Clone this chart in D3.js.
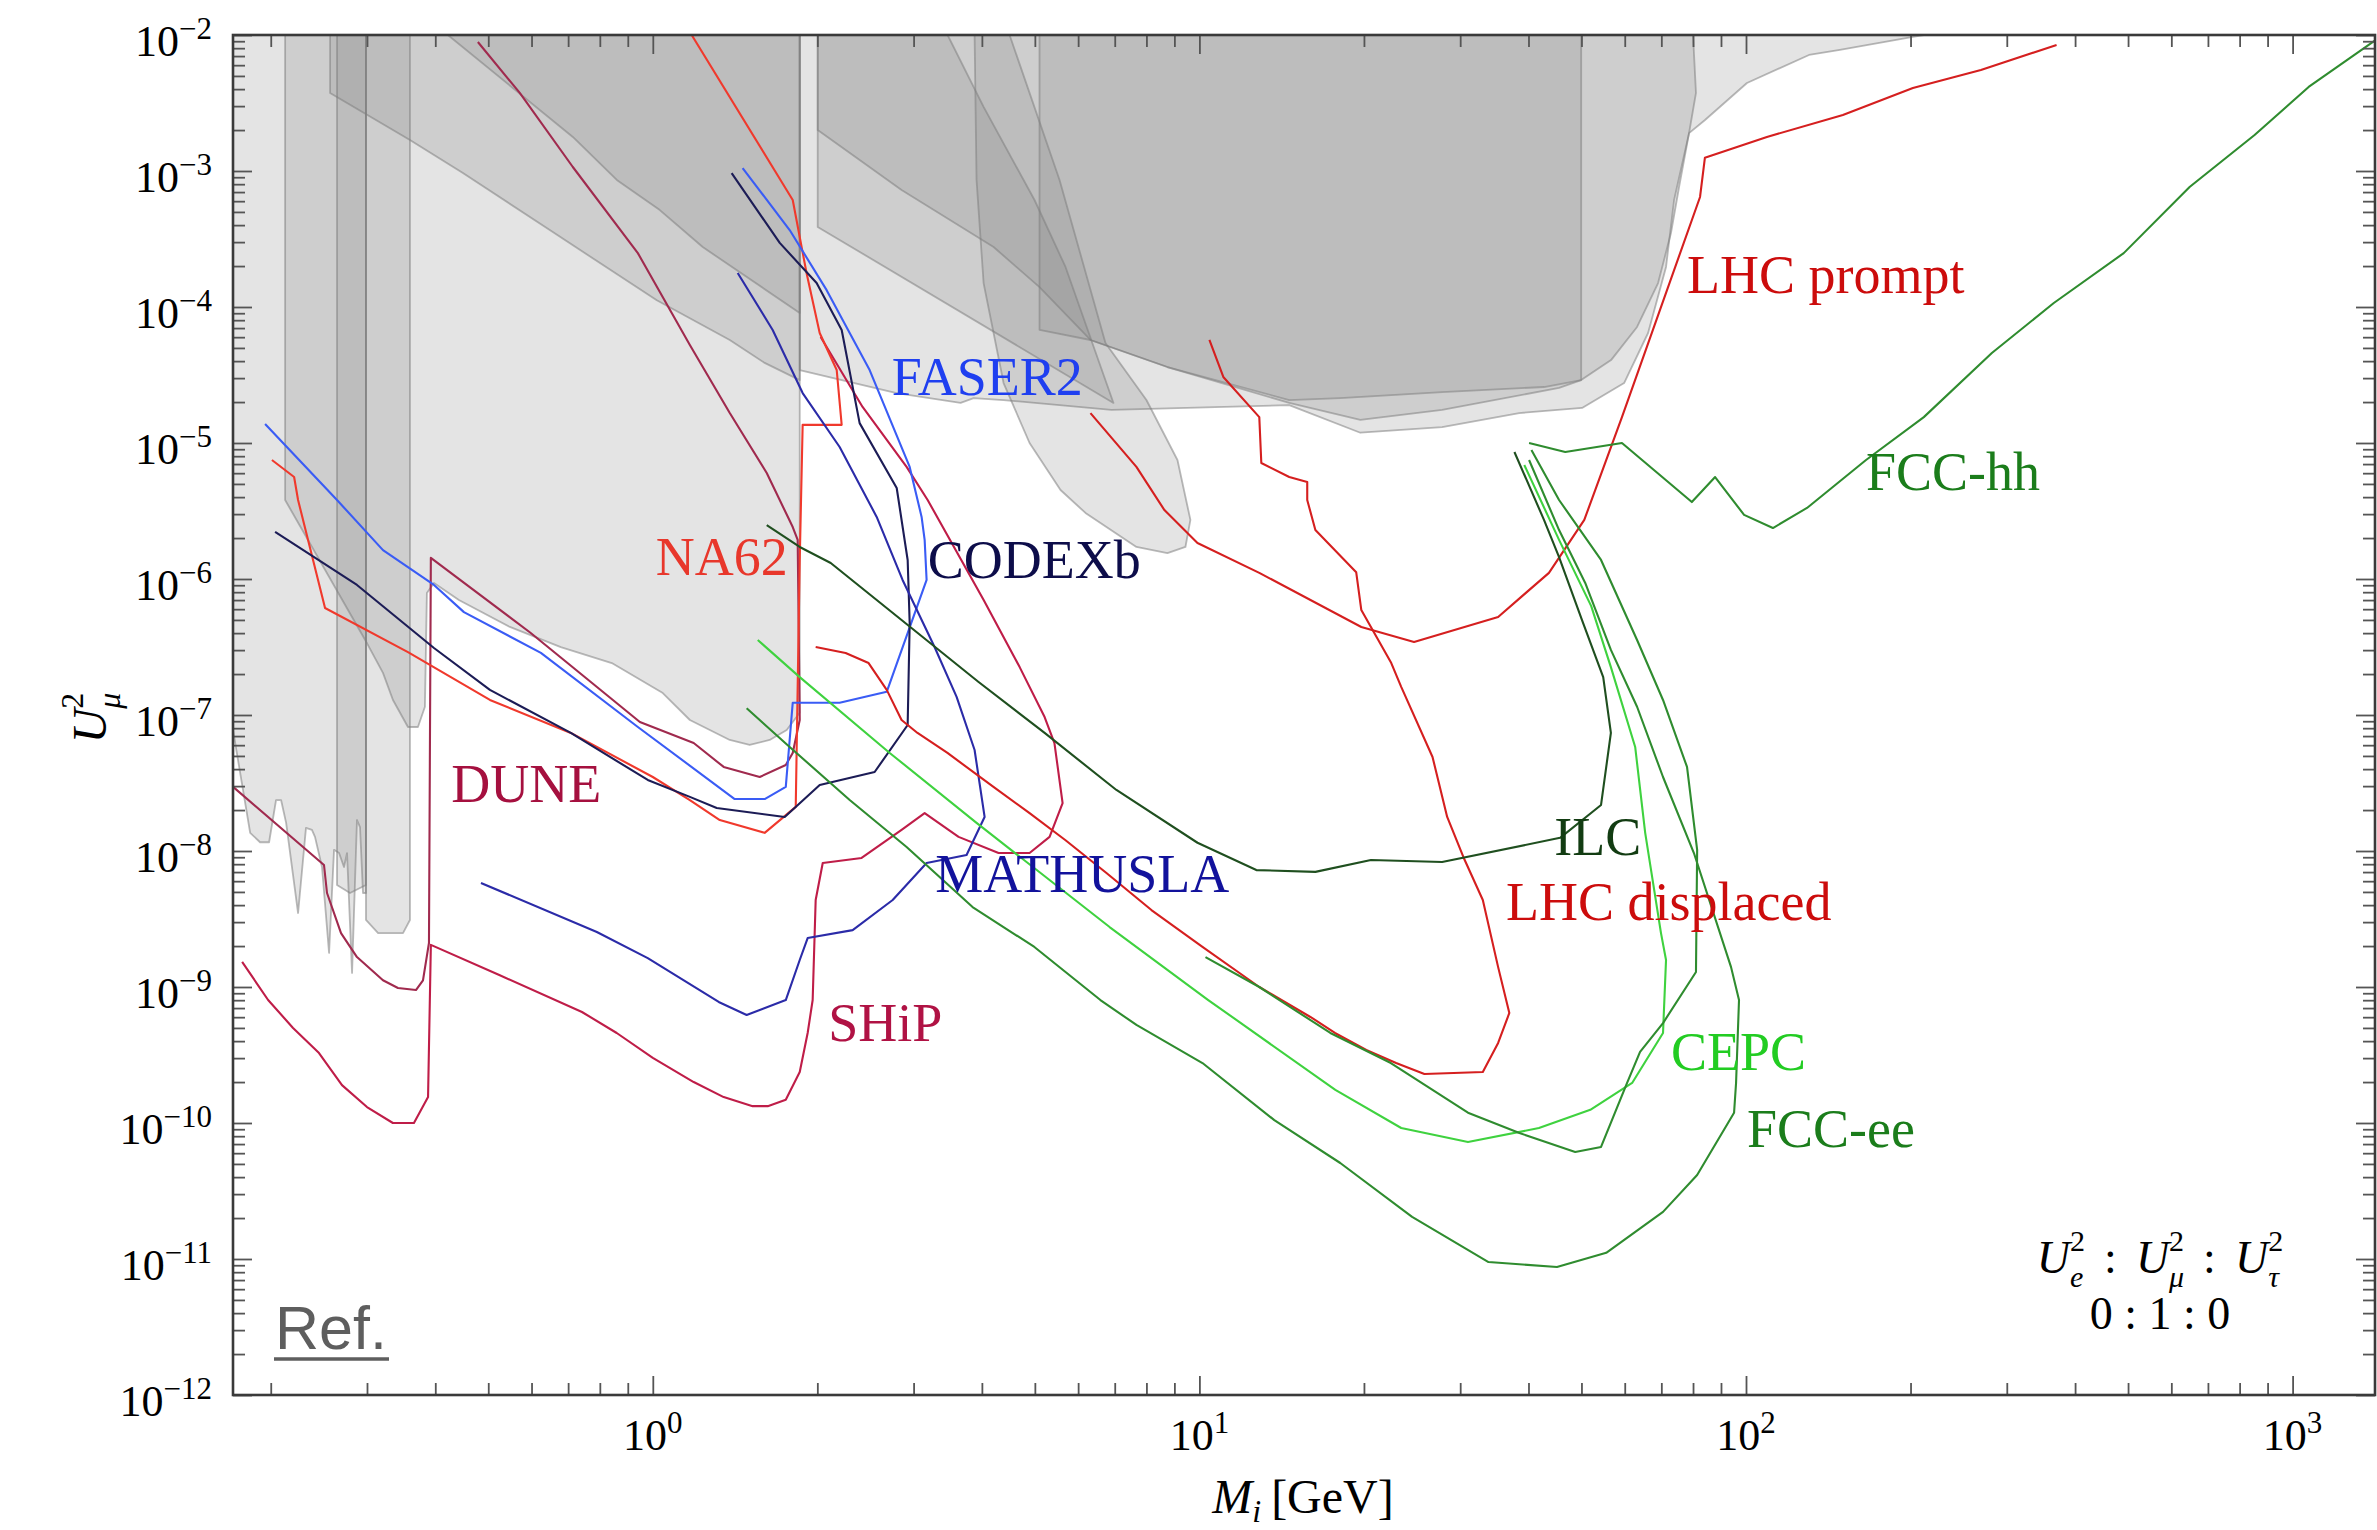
<!DOCTYPE html>
<html>
<head>
<meta charset="utf-8">
<script src="https://cdn.jsdelivr.net/npm/d3@7"></script>
<style>
  body { margin: 0; background: #fff; }
  svg text { font-family: "Liberation Serif", "Times New Roman", serif; }
</style>
</head>
<body>
<svg id="chart" width="2377" height="1530"></svg>
<script>
// HNL sensitivity / exclusion plot: heavy neutral lepton mass vs muon mixing U_mu^2
// All points are [M in GeV, U_mu^2].

const massDomain = [0.1706, 1415];
const mixDomain = [1e-12, 1e-2];
const xTickExps = [0, 1, 2, 3];
const yTickExps = [-12, -11, -10, -9, -8, -7, -6, -5, -4, -3, -2];

// ---- existing bounds (shaded) ----
const boundPeak = [[0.1706,1e-2],[0.2987,1e-2],[0.2987,4.91e-9],[0.2950,4.91e-9],[0.2913,1.5e-8],[0.2876,1.69e-8],[0.2817,1.27e-9],[0.2758,9.66e-9],[0.2723,7.63e-9],[0.2667,9.66e-9],[0.2611,1.02e-8],[0.2557,1.78e-9],[0.2482,7.63e-9],[0.2410,1.27e-8],[0.2379,1.43e-8],[0.2320,1.48e-8],[0.2244,3.5e-9],[0.2134,1.61e-8],[0.2089,2.37e-8],[0.2045,2.37e-8],[0.1986,1.16e-8],[0.1912,1.16e-8],[0.1834,1.36e-8],[0.1706,7.76e-8]];
const boundStripA = [[0.2644,1e-2],[0.2987,1e-2],[0.2987,5.62e-9],[0.2793,4.91e-9],[0.2644,5.62e-9]];
const boundStripB = [[0.2987,1e-2],[0.3595,1e-2],[0.3595,3.11e-9],[0.3491,2.49e-9],[0.3144,2.49e-9],[0.2987,3.11e-9]];
const boundLowMass = [[0.2125,1e-2],[1.857,1e-2],[1.857,1.04e-7],[1.758,7.76e-8],[1.636,6.55e-8],[1.504,6.02e-8],[1.383,6.55e-8],[1.169,9.19e-8],[1.043,1.45e-7],[0.8414,2.41e-7],[0.6787,3.16e-7],[0.5476,4.44e-7],[0.4418,7.01e-7],[0.3978,9.35e-7],[0.3861,7.89e-7],[0.3829,1.15e-7],[0.3718,8.16e-8],[0.3565,8.16e-8],[0.3347,1.29e-7],[0.3209,2.04e-7],[0.2999,3.38e-7],[0.2125,3.81e-6]];
const boundDiagA = [[0.2568,1e-2],[0.2568,3.75e-3],[0.3595,1.69e-3],[0.4494,9.66e-4],[0.6479,3.68e-4],[1.017,1.12e-4],[1.383,5.72e-5],[1.602,3.88e-5],[1.857,2.9e-5],[1.857,1e-2]];
const boundDiagB = [[0.4218,1e-2],[0.714,1.78e-3],[0.8593,8.59e-4],[1.030,5.16e-4],[1.234,2.76e-4],[1.857,9.04e-5],[1.857,1e-2]];
const boundWide = [[1.857,1e-2],[211.5,1e-2],[202,9.67e-3],[148.5,7.76e-3],[130.4,7.13e-3],[100.4,4.44e-3],[84.14,2.37e-3],[78.67,1.9e-3],[73.86,6.12e-4],[71.4,1.97e-4],[66.2,6.44e-5],[59.84,2.76e-5],[50.13,1.81e-5],[38.46,1.66e-5],[27.8,1.31e-5],[19.7,1.19e-5],[14.6,1.9e-5],[6.904,1.75e-5],[4.383,2.07e-5],[3.863,2.14e-5],[3.657,1.97e-5],[2.793,2.33e-5],[1.857,3.44e-5]];
const boundMid = [[2.003,1e-2],[80.0,1e-2],[81.0,3.75e-3],[78.67,1.9e-3],[75.43,7.63e-4],[72.9,3.5e-4],[69.05,1.5e-4],[63.2,7.13e-5],[56.64,4.07e-5],[49.94,2.9e-5],[45.5,2.54e-5],[27.8,1.75e-5],[19.7,1.48e-5],[14.6,1.97e-5],[8.739,3.62e-5],[6.320,5.72e-5],[5.099,1.40e-4],[4.202,2.76e-4],[2.852,7.25e-4],[2.003,2.0e-3]];
const boundCollider = [[5.099,1e-2],[49.94,1e-2],[49.94,2.9e-5],[42.72,2.58e-5],[27.8,2.37e-5],[18.1,2.14e-5],[14.6,2.07e-5],[8.739,3.62e-5],[6.320,5.72e-5],[5.099,6.78e-5]];
const boundBeamDump = [[2.003,1e-2],[3.462,1e-2],[4.029,2.96e-3],[4.993,6.12e-4],[5.689,1.97e-4],[6.963,1.97e-5],[2.003,3.88e-4]];
const boundLobe = [[3.879,1e-2],[4.495,1e-2],[5.548,8.59e-4],[6.732,5.44e-5],[8.0,2.07e-5],[9.117,7.5e-6],[9.628,2.72e-6],[9.428,1.72e-6],[8.739,1.55e-6],[7.670,1.72e-6],[6.189,3.06e-6],[5.571,4.51e-6],[4.89,1.0e-5],[4.383,2.76e-5],[4.029,1.5e-4],[3.911,8.59e-4]];

// ---- future sensitivities (lines) ----
const DUNE = [[0.1707,2.96e-8],[0.2503,7.89e-9],[0.2535,4.91e-9],[0.2689,2.49e-9],[0.2876,1.66e-9],[0.3209,1.12e-9],[0.3418,9.84e-10],[0.3687,9.5e-10],[0.3798,1.12e-9],[0.3895,2.11e-9],[0.3926,1.43e-6],[0.598,4.01e-7],[0.947,8.89e-8],[1.188,6.22e-8],[1.348,4.15e-8],[1.569,3.5e-8],[1.751,4.29e-8],[1.803,5.26e-8],[1.857,9.19e-8],[1.841,1.94e-6],[1.803,2.41e-6],[1.616,6.02e-6],[1.383,1.66e-5],[1.169,5.26e-5],[0.939,2.49e-4],[0.714,1.07e-3],[0.571,3.75e-3],[0.4786,8.88e-3]];
const SHiP = [[0.1773,1.53e-9],[0.1978,8.02e-10],[0.2197,5.0e-10],[0.2451,3.27e-10],[0.27,1.9e-10],[0.30,1.31e-10],[0.3346,1.0e-10],[0.3656,1.0e-10],[0.388,1.55e-10],[0.3926,2.04e-9],[0.525,1.22e-9],[0.742,6.55e-10],[0.859,4.59e-10],[1.0,3.01e-10],[1.188,2.0e-10],[1.348,1.55e-10],[1.523,1.33e-10],[1.623,1.33e-10],[1.751,1.48e-10],[1.857,2.37e-10],[1.92,4.59e-10],[1.961,8.02e-10],[1.986,4.36e-9],[2.046,8.16e-9],[2.41,8.89e-9],[2.852,1.43e-8],[3.143,1.9e-8],[3.626,1.27e-8],[4.291,9.66e-9],[4.89,9.66e-9],[5.32,1.27e-8],[5.62,2.25e-8],[5.43,6.22e-8],[5.21,9.66e-8],[4.69,2.25e-7],[4.03,7.01e-7],[3.183,3.81e-6],[2.913,6.67e-6],[2.42,1.84e-5],[2.028,6.02e-5]];
const NA62 = [[0.201,7.5e-6],[0.2207,5.62e-6],[0.2244,3.81e-6],[0.2514,6.12e-7],[0.3565,2.9e-7],[0.5035,1.29e-7],[0.708,7.38e-8],[1.0,3.5e-8],[1.169,2.37e-8],[1.326,1.69e-8],[1.602,1.36e-8],[1.826,2.11e-8],[1.857,1.38e-6],[1.88,1.36e-5],[2.216,1.36e-5],[2.17,3.44e-5],[2.02,6.44e-5],[1.911,1.78e-4],[1.803,6.12e-4],[1.178,1e-2]];
const FASER2 = [[0.1953,1.38e-5],[0.2644,3.81e-6],[0.3209,1.63e-6],[0.3978,9.04e-7],[0.4513,5.71e-7],[0.6241,2.86e-7],[0.939,8.16e-8],[1.412,2.41e-8],[1.602,2.41e-8],[1.751,2.96e-8],[1.803,1.23e-7],[2.197,1.23e-7],[2.679,1.48e-7],[3.169,9.84e-7],[3.143,1.94e-6],[3.103,2.86e-6],[2.951,6.67e-6],[2.493,3.44e-5],[2.08,1.33e-4],[1.78,3.68e-4],[1.46,1.05e-3]];
const CODEXb = [[0.2037,2.22e-6],[0.2876,9.04e-7],[0.3978,3.11e-7],[0.5035,1.53e-7],[0.708,7.38e-8],[0.979,3.33e-8],[1.169,2.5e-8],[1.309,2.07e-8],[1.743,1.78e-8],[2.02,3.06e-8],[2.546,3.81e-8],[2.926,8.44e-8],[2.951,4.74e-7],[2.926,1.38e-6],[2.794,4.67e-6],[2.39,1.4e-5],[2.216,6.78e-5],[1.994,1.5e-4],[1.707,2.96e-4],[1.394,9.66e-4]];
const MATHUSLA = [[0.4849,5.82e-9],[0.79,2.54e-9],[0.979,1.63e-9],[1.32,7.76e-10],[1.485,6.22e-10],[1.751,8.02e-10],[1.857,1.58e-9],[1.92,2.29e-9],[2.321,2.62e-9],[2.747,4.36e-9],[3.169,8.16e-9],[3.75,9.35e-9],[4.046,1.78e-8],[3.879,5.53e-8],[3.596,1.36e-7],[3.277,3.16e-7],[2.864,9.84e-7],[2.568,2.86e-6],[2.197,9.35e-6],[1.88,2.33e-5],[1.657,6.78e-5],[1.43,1.78e-4]];
const LHCdisplaced = [[10.43,5.72e-5],[11.06,3.06e-5],[12.87,1.55e-5],[12.98,7.13e-6],[14.6,5.62e-6],[15.75,5.16e-6],[15.75,3.81e-6],[16.3,2.29e-6],[19.36,1.12e-6],[19.78,5.91e-7],[22.44,2.41e-7],[23.4,1.61e-7],[26.7,4.91e-8],[28.4,1.78e-8],[30.4,9.04e-9],[33.0,4.36e-9],[35.2,1.4e-9],[36.9,6.44e-10],[35.2,3.88e-10],[33.0,2.37e-10],[25.8,2.29e-10],[22.9,2.76e-10],[20.2,3.44e-10],[17.7,4.59e-10],[15.96,6.02e-10],[12.87,1.0e-9],[10.13,1.97e-9],[8.17,3.68e-9],[6.76,6.89e-9],[5.69,1.2e-8],[4.89,1.9e-8],[4.2,2.96e-8],[3.46,5.26e-8],[3.05,7.38e-8],[2.852,9.19e-8],[2.679,1.53e-7],[2.482,2.41e-7],[2.253,2.86e-7],[1.986,3.16e-7]];
const LHCprompt = [[6.32,1.66e-5],[7.67,6.67e-6],[8.63,3.21e-6],[9.92,1.84e-6],[12.87,1.11e-6],[19.78,4.44e-7],[24.7,3.44e-7],[35.2,5.26e-7],[43.6,1.11e-6],[50.6,2.72e-6],[59.3,1.55e-5],[82.4,6.44e-4],[84.1,1.25e-3],[109.2,1.78e-3],[150.4,2.58e-3],[202,4.07e-3],[269,5.53e-3],[370,8.44e-3]];
const ILC = [[1.616,2.49e-6],[1.857,1.72e-6],[2.116,1.31e-6],[3.945,1.75e-7],[5.21,7.38e-8],[7.05,2.81e-8],[9.92,1.15e-8],[12.71,7.24e-9],[16.3,7.02e-9],[20.6,8.59e-9],[27.8,8.3e-9],[45.7,1.25e-8],[54.3,2.18e-8],[56.6,7.38e-8],[54.8,1.9e-7],[50.1,5.0e-7],[45.5,1.45e-6],[42.7,2.72e-6],[37.7,8.59e-6]];
const CEPC = [[1.556,3.56e-7],[1.857,1.9e-7],[2.713,5.26e-8],[3.911,1.61e-8],[6.85,2.76e-9],[10.38,8.02e-10],[17.73,1.75e-10],[23.4,9.19e-11],[31.0,7.24e-11],[41.8,9.19e-11],[51.9,1.25e-10],[61.9,1.97e-10],[70.5,4.59e-10],[71.4,1.58e-9],[69.9,2.49e-9],[65.4,1.36e-8],[62.7,5.82e-8],[56.6,2.25e-7],[52.1,6.32e-7],[45.5,1.94e-6],[39.3,6.89e-6]];
const FCCeeWide = [[1.485,1.12e-7],[1.78,5.82e-8],[2.292,2.37e-8],[2.913,1.07e-8],[3.846,3.87e-9],[4.99,1.97e-9],[6.59,8.02e-10],[7.67,5.26e-10],[10.13,2.76e-10],[13.71,1.05e-10],[18.1,5.08e-11],[24.5,2.04e-11],[33.8,9.5e-12],[45.1,8.73e-12],[55.5,1.11e-11],[70.5,2.22e-11],[81.4,4.15e-11],[95.1,1.19e-10],[95.9,1.97e-10],[97.1,8.02e-10],[93.9,1.4e-9],[80.3,9.66e-9],[70.5,3.5e-8],[63.2,1.15e-7],[56.6,3.01e-7],[50.8,9.35e-7],[45.5,2.29e-6],[40.1,7.5e-6]];
const FCCeeNarrow = [[10.26,1.66e-9],[12.87,1.0e-9],[17.36,4.59e-10],[22.4,2.76e-10],[31.0,1.19e-10],[38.5,8.44e-11],[48.7,6.12e-11],[54.3,6.67e-11],[60.6,1.97e-10],[64.0,3.33e-10],[70.5,5.43e-10],[81.0,1.29e-9],[81.4,1.02e-8],[78.0,4.15e-8],[70.5,1.29e-7],[63.2,3.56e-7],[54.3,1.38e-6],[45.5,3.81e-6],[40.5,8.89e-6]];
const FCChh = [[40.1,1.0e-5],[46.7,8.59e-6],[59.3,1.0e-5],[79.6,3.68e-6],[87.8,5.62e-6],[99.2,2.96e-6],[112,2.37e-6],[129.3,3.33e-6],[165.8,7.5e-6],[211.5,1.55e-5],[281.7,4.59e-5],[365.7,1.07e-4],[491,2.49e-4],[648,7.63e-4],[852,1.84e-3],[1070,4.15e-3],[1418,9.19e-3]];

// experiment names and where they are written: [text, M, U^2]
const curveLabels = [
  ["NA62", 1.013, 1.07e-6],
  ["FASER2", 2.735, 2.25e-5],
  ["CODEXb", 3.183, 1.02e-6],
  ["DUNE", 0.428, 2.29e-8],
  ["MATHUSLA", 3.286, 5.0e-9],
  ["SHiP", 2.094, 4.01e-10],
  ["ILC", 44.6, 9.3e-9],
  ["LHC displaced", 36.4, 3.1e-9],
  ["LHC prompt", 78.0, 1.27e-4],
  ["CEPC", 72.9, 2.45e-10],
  ["FCC-ee", 100.4, 6.67e-11],
  ["FCC-hh", 165.8, 4.51e-6]
];

// ---------------- drawing ----------------
const L = 233, R = 2375, T = 35, B = 1395;
const svg = d3.select("#chart");
const x = d3.scaleLog().domain(massDomain).range([L, R]);
const y = d3.scaleLog().domain(mixDomain).range([B, T]);

svg.append("defs").append("clipPath").attr("id", "plotClip")
  .append("rect").attr("x", L).attr("y", T).attr("width", R - L).attr("height", B - T);

const plot = svg.append("g").attr("clip-path", "url(#plotClip)");
const path = d3.line().x(d => x(d[0])).y(d => y(d[1]));

const bounds = [boundPeak, boundStripA, boundStripB, boundLowMass, boundDiagA, boundDiagB,
                boundWide, boundMid, boundCollider, boundBeamDump, boundLobe];
plot.append("g").selectAll("path").data(bounds).join("path")
  .attr("d", d => path(d) + "Z")
  .attr("fill", "#7f7f7f").attr("fill-opacity", 0.21)
  .attr("stroke", "#808080").attr("stroke-opacity", 0.55).attr("stroke-width", 1.8)
  .attr("stroke-linejoin", "round");

const curveStyle = [
  [DUNE, "#a02a4e"],
  [SHiP, "#bf1d48"],
  [NA62, "#f0392c"],
  [FASER2, "#3a5cf5"],
  [CODEXb, "#1c1c56"],
  [MATHUSLA, "#2b2ba8"],
  [LHCdisplaced, "#d51f1f"],
  [LHCprompt, "#d51f1f"],
  [ILC, "#1f4f1f"],
  [CEPC, "#3fd23f"],
  [FCCeeWide, "#2f8c2f"],
  [FCCeeNarrow, "#2f8c2f"],
  [FCChh, "#2f8c2f"]
];
plot.append("g").selectAll("path").data(curveStyle).join("path")
  .attr("d", d => path(d[0]))
  .attr("fill", "none").attr("stroke", d => d[1]).attr("stroke-width", 2.1)
  .attr("stroke-linejoin", "round");

const labelColor = {
  "NA62": "#e8372b", "FASER2": "#1f3ff0", "CODEXb": "#0d0d4a", "DUNE": "#a5103f",
  "MATHUSLA": "#12129c", "SHiP": "#b01244", "ILC": "#123c12", "LHC displaced": "#cc0c0c",
  "LHC prompt": "#cc0c0c", "CEPC": "#22cc22", "FCC-ee": "#1b7d1b", "FCC-hh": "#1b7d1b"
};
svg.append("g").selectAll("text").data(curveLabels).join("text")
  .attr("x", d => x(d[1])).attr("y", d => y(d[2]))
  .attr("font-size", 54).attr("fill", d => labelColor[d[0]])
  .text(d => d[0]);

// ---- axes: inward ticks on all four sides ----
const xMajor = xTickExps.map(e => Math.pow(10, e));
const yMajor = yTickExps.map(e => Math.pow(10, e));
const xMinor = [], yMinor = [];
for (let e = -1; e <= 3; e++) for (let m = 2; m <= 9; m++) {
  const v = m * Math.pow(10, e);
  if (v > massDomain[0] && v < massDomain[1]) xMinor.push(v);
}
for (let e = -12; e <= -3; e++) for (let m = 2; m <= 9; m++) yMinor.push(m * Math.pow(10, e));

function tickGroup(axis, tx, ty) {
  const g = svg.append("g").attr("transform", `translate(${tx},${ty})`).call(axis);
  g.select(".domain").remove();
  g.selectAll("line").attr("stroke", "#555").attr("stroke-width", 1.8);
  g.selectAll("text").remove();
}
const none = () => "";
tickGroup(d3.axisBottom(x).tickValues(xMajor).tickSize(-19).tickFormat(none), 0, B);
tickGroup(d3.axisBottom(x).tickValues(xMinor).tickSize(-12).tickFormat(none), 0, B);
tickGroup(d3.axisTop(x).tickValues(xMajor).tickSize(-19).tickFormat(none), 0, T);
tickGroup(d3.axisTop(x).tickValues(xMinor).tickSize(-12).tickFormat(none), 0, T);
tickGroup(d3.axisLeft(y).tickValues(yMajor).tickSize(-19).tickFormat(none), L, 0);
tickGroup(d3.axisLeft(y).tickValues(yMinor).tickSize(-12).tickFormat(none), L, 0);
tickGroup(d3.axisRight(y).tickValues(yMajor).tickSize(-19).tickFormat(none), R, 0);
tickGroup(d3.axisRight(y).tickValues(yMinor).tickSize(-12).tickFormat(none), R, 0);

svg.append("rect").attr("x", L).attr("y", T).attr("width", R - L).attr("height", B - T)
  .attr("fill", "none").attr("stroke", "#3a3a3a").attr("stroke-width", 2.6);

function powerText(sel, e) {
  sel.append("tspan").text("10");
  sel.append("tspan").attr("dy", -17).attr("font-size", 31)
    .text(e < 0 ? "\u2212" + (-e) : String(e));
}
xTickExps.forEach(e => {
  const t = svg.append("text").attr("x", x(Math.pow(10, e))).attr("y", 1450)
    .attr("text-anchor", "middle").attr("font-size", 44);
  powerText(t, e);
});
yTickExps.forEach(e => {
  const t = svg.append("text").attr("x", 212).attr("y", y(Math.pow(10, e)) + 21)
    .attr("text-anchor", "end").attr("font-size", 44);
  powerText(t, e);
});

// U with a lower index and a squared exponent stacked over it.
// `back` returns the baseline from a previous exponent, `lead` is extra space before U.
const SUB = 0.45, SUP = 0.72;
function mixingSymbol(t, sub, size, small, back, lead) {
  t.append("tspan").attr("font-style", "italic").attr("font-size", size)
    .attr("dy", back).attr("dx", lead).text("U");
  const s = t.append("tspan").attr("font-style", "italic").attr("font-size", small)
    .attr("dy", small * SUB).text(sub);
  const w = s.node().getComputedTextLength();
  t.append("tspan").attr("font-size", small).attr("dx", -w)
    .attr("dy", -small * (SUB + SUP)).text("2");
}

// axis titles
const xt = svg.append("text").attr("x", 1303).attr("y", 1513).attr("text-anchor", "middle")
  .attr("font-size", 48);
xt.append("tspan").attr("font-style", "italic").text("M");
xt.append("tspan").attr("font-style", "italic").attr("font-size", 32).attr("dy", 9).text("i");
xt.append("tspan").attr("dy", -9).attr("dx", 10).text("[GeV]");

const yt = svg.append("text").attr("transform", "translate(106,718) rotate(-90)")
  .attr("text-anchor", "middle").attr("font-size", 48);
mixingSymbol(yt, "\u03bc", 48, 32, 0, 0);

// flavour ratio box
const small = 30, gap = 19;
const r1 = svg.append("text").attr("x", 2160).attr("y", 1273).attr("text-anchor", "middle")
  .attr("font-size", 46);
mixingSymbol(r1, "e", 46, small, 0, 0);
r1.append("tspan").attr("dy", small * SUP).attr("dx", gap).text(":");
mixingSymbol(r1, "\u03bc", 46, small, 0, gap);
r1.append("tspan").attr("dy", small * SUP).attr("dx", gap).text(":");
mixingSymbol(r1, "\u03c4", 46, small, 0, gap);
svg.append("text").attr("x", 2160).attr("y", 1329).attr("text-anchor", "middle")
  .attr("font-size", 46).text("0 : 1 : 0");

// corner tag
svg.append("text").attr("x", 275).attr("y", 1349)
  .style("font-family", "'Liberation Sans', Arial, sans-serif")
  .attr("font-size", 61).attr("fill", "#5e5e5e").text("Ref.");
svg.append("line").attr("x1", 274).attr("x2", 389).attr("y1", 1359).attr("y2", 1359)
  .attr("stroke", "#5e5e5e").attr("stroke-width", 3.5);
</script>
</body>
</html>
